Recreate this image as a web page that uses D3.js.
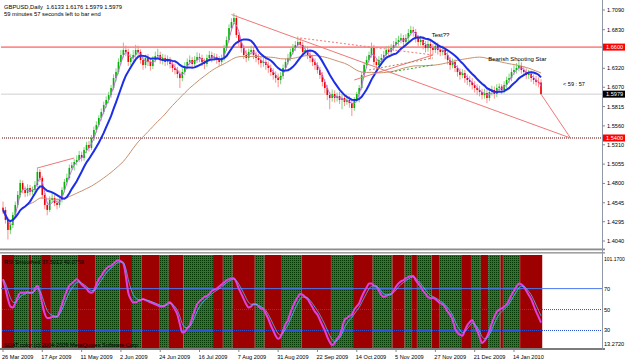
<!DOCTYPE html>
<html>
<head>
<meta charset="utf-8">
<script src="https://cdn.jsdelivr.net/npm/d3@7"></script>
<style>
  body { margin: 0; background: #fff; }
  svg { display: block; font-family: "Liberation Sans", Arial, sans-serif; }
</style>
</head>
<body>
<div class="canvas"></div>
<script>
// window size
const w = 625;
const h = 363;

// daily GBPUSD bars, 26 Mar 2009 .. 29 Jan 2010 (open = previous close)
const firstOpen = 1.4480;
const closes = [
  1.4450, 1.4318, 1.4186, 1.4252, 1.4384, 1.4516, 1.4648, 1.4806, 1.4714, 1.4674,
  1.4740, 1.4688, 1.4714, 1.4780, 1.4952, 1.4873, 1.4648, 1.4516, 1.4450, 1.4582,
  1.4608, 1.4542, 1.4516, 1.4582, 1.4714, 1.4820, 1.4873, 1.5004, 1.5040,
  1.5083, 1.5110, 1.5176, 1.5136, 1.5242, 1.5308, 1.5268, 1.5400, 1.5506, 1.5572,
  1.5664, 1.5743, 1.5836, 1.5902, 1.5968, 1.6060, 1.6192, 1.6272, 1.6404, 1.6496,
  1.6562, 1.6536, 1.6404, 1.6456, 1.6496, 1.6562, 1.6536, 1.6430, 1.6364, 1.6456,
  1.6404, 1.6351, 1.6430, 1.6483, 1.6496, 1.6430, 1.6456, 1.6404, 1.6430, 1.6377,
  1.6324, 1.6298, 1.6245, 1.6192, 1.6272, 1.6351, 1.6404, 1.6430, 1.6377, 1.6430,
  1.6470, 1.6456, 1.6404, 1.6377, 1.6456, 1.6496, 1.6456, 1.6470,
  1.6430, 1.6404, 1.6456, 1.6588, 1.6694, 1.6852, 1.6932, 1.6984, 1.6760, 1.6668,
  1.6588, 1.6496, 1.6456, 1.6536, 1.6562, 1.6496, 1.6456, 1.6430, 1.6390, 1.6404,
  1.6364, 1.6324, 1.6272, 1.6232, 1.6192, 1.6166, 1.6219, 1.6324, 1.6404, 1.6456,
  1.6536, 1.6588, 1.6628, 1.6668, 1.6628, 1.6536, 1.6562, 1.6496, 1.6456, 1.6404,
  1.6364, 1.6298, 1.6232, 1.6140, 1.6060, 1.5968, 1.5928, 1.5981, 1.5928, 1.5954,
  1.5902, 1.5928, 1.5876, 1.5902, 1.5862, 1.5796, 1.5902, 1.5980,
  1.6060, 1.6232, 1.6364, 1.6430, 1.6496, 1.6588, 1.6404, 1.6364, 1.6430, 1.6456,
  1.6496, 1.6562, 1.6536, 1.6588, 1.6628, 1.6668, 1.6694, 1.6720, 1.6668, 1.6720,
  1.6786, 1.6826, 1.6800, 1.6720, 1.6668, 1.6694, 1.6628, 1.6588, 1.6641, 1.6588,
  1.6562, 1.6615, 1.6562, 1.6536, 1.6562, 1.6496, 1.6430, 1.6364, 1.6404, 1.6324,
  1.6272, 1.6232, 1.6258, 1.6192, 1.6166, 1.6140, 1.6100, 1.6060, 1.6034, 1.6008,
  1.5968, 1.5994, 1.5928, 1.6008, 1.6034, 1.5981, 1.6060, 1.6080,
  1.6034, 1.6100, 1.6166, 1.6192, 1.6272, 1.6298, 1.6324, 1.6351, 1.6298, 1.6272,
  1.6232, 1.6245, 1.6192, 1.6166, 1.6140, 1.6133, 1.5979
];
const highs = [
  1.4560, 1.4490, 1.4350, 1.4300, 1.4420, 1.4560, 1.4700, 1.4850, 1.4840, 1.4760,
  1.4790, 1.4780, 1.4760, 1.4830, 1.5010, 1.4990, 1.4900, 1.4680, 1.4560, 1.4630,
  1.4680, 1.4650, 1.4600, 1.4620, 1.4750, 1.4860, 1.4930, 1.5050, 1.5080,
  1.5120, 1.5170, 1.5230, 1.5220, 1.5280, 1.5350, 1.5360, 1.5440, 1.5550, 1.5620,
  1.5700, 1.5790, 1.5880, 1.5950, 1.6010, 1.6100, 1.6240, 1.6320, 1.6450, 1.6560,
  1.6660, 1.6620, 1.6580, 1.6510, 1.6560, 1.6630, 1.6620, 1.6570, 1.6470, 1.6500,
  1.6510, 1.6440, 1.6480, 1.6540, 1.6580, 1.6540, 1.6510, 1.6500, 1.6490, 1.6470,
  1.6420, 1.6380, 1.6340, 1.6290, 1.6320, 1.6400, 1.6450, 1.6490, 1.6470, 1.6480,
  1.6530, 1.6520, 1.6500, 1.6450, 1.6500, 1.6550, 1.6540, 1.6520,
  1.6510, 1.6480, 1.6500, 1.6630, 1.6740, 1.6900, 1.6980, 1.7050, 1.7020, 1.6800,
  1.6710, 1.6630, 1.6560, 1.6580, 1.6620, 1.6600, 1.6540, 1.6510, 1.6480, 1.6460,
  1.6450, 1.6410, 1.6370, 1.6320, 1.6280, 1.6250, 1.6270, 1.6370, 1.6450, 1.6510,
  1.6580, 1.6640, 1.6680, 1.6740, 1.6720, 1.6670, 1.6620, 1.6610, 1.6540, 1.6500,
  1.6450, 1.6400, 1.6340, 1.6270, 1.6180, 1.6100, 1.6010, 1.6040, 1.6030, 1.6000,
  1.6010, 1.5980, 1.5970, 1.5950, 1.5950, 1.5900, 1.5940, 1.6010,
  1.6100, 1.6270, 1.6400, 1.6480, 1.6540, 1.6660, 1.6630, 1.6450, 1.6480, 1.6510,
  1.6550, 1.6610, 1.6620, 1.6640, 1.6680, 1.6720, 1.6750, 1.6780, 1.6760, 1.6770,
  1.6840, 1.6880, 1.6870, 1.6840, 1.6760, 1.6750, 1.6740, 1.6680, 1.6700, 1.6690,
  1.6640, 1.6670, 1.6660, 1.6610, 1.6620, 1.6600, 1.6540, 1.6470, 1.6450, 1.6440,
  1.6360, 1.6320, 1.6310, 1.6300, 1.6240, 1.6220, 1.6190, 1.6150, 1.6110, 1.6090,
  1.6050, 1.6050, 1.6040, 1.6060, 1.6090, 1.6080, 1.6110, 1.6120,
  1.6110, 1.6150, 1.6210, 1.6250, 1.6320, 1.6360, 1.6390, 1.6430, 1.6400, 1.6350,
  1.6320, 1.6300, 1.6290, 1.6240, 1.6220, 1.6200, 1.6176
];
const lows = [
  1.4400, 1.4270, 1.4060, 1.4130, 1.4210, 1.4350, 1.4480, 1.4610, 1.4670, 1.4620,
  1.4630, 1.4640, 1.4650, 1.4680, 1.4750, 1.4820, 1.4600, 1.4460, 1.4380, 1.4420,
  1.4540, 1.4500, 1.4460, 1.4480, 1.4550, 1.4680, 1.4780, 1.4850, 1.4980,
  1.4970, 1.5040, 1.5080, 1.5090, 1.5100, 1.5200, 1.5220, 1.5240, 1.5360, 1.5470,
  1.5540, 1.5630, 1.5710, 1.5800, 1.5860, 1.5930, 1.6030, 1.6150, 1.6240, 1.6370,
  1.6460, 1.6480, 1.6350, 1.6360, 1.6400, 1.6450, 1.6480, 1.6380, 1.6300, 1.6320,
  1.6350, 1.6290, 1.6310, 1.6400, 1.6440, 1.6380, 1.6370, 1.6350, 1.6360, 1.6320,
  1.6270, 1.6240, 1.6190, 1.6060, 1.6150, 1.6230, 1.6310, 1.6360, 1.6330, 1.6340,
  1.6390, 1.6400, 1.6350, 1.6310, 1.6340, 1.6420, 1.6400, 1.6420,
  1.6380, 1.6350, 1.6360, 1.6420, 1.6550, 1.6660, 1.6810, 1.6900, 1.6720, 1.6610,
  1.6530, 1.6440, 1.6400, 1.6420, 1.6500, 1.6440, 1.6400, 1.6370, 1.6330, 1.6340,
  1.6300, 1.6260, 1.6220, 1.6170, 1.6130, 1.6070, 1.6110, 1.6180, 1.6290, 1.6370,
  1.6420, 1.6500, 1.6550, 1.6590, 1.6580, 1.6480, 1.6490, 1.6440, 1.6400, 1.6350,
  1.6300, 1.6250, 1.6180, 1.6080, 1.5990, 1.5900, 1.5780, 1.5880, 1.5870, 1.5880,
  1.5850, 1.5780, 1.5820, 1.5840, 1.5800, 1.5690, 1.5760, 1.5870,
  1.5870, 1.6030, 1.6200, 1.6330, 1.6400, 1.6460, 1.6360, 1.6310, 1.6330, 1.6390,
  1.6410, 1.6460, 1.6490, 1.6500, 1.6550, 1.6590, 1.6620, 1.6650, 1.6610, 1.6630,
  1.6680, 1.6750, 1.6740, 1.6660, 1.6610, 1.6620, 1.6570, 1.6530, 1.6540, 1.6440,
  1.6500, 1.6520, 1.6500, 1.6480, 1.6490, 1.6440, 1.6370, 1.6300, 1.6320, 1.6270,
  1.6210, 1.6170, 1.6190, 1.6130, 1.6100, 1.6080, 1.6040, 1.6000, 1.5970, 1.5950,
  1.5910, 1.5920, 1.5860, 1.5890, 1.5960, 1.5920, 1.5940, 1.6020,
  1.5980, 1.5990, 1.6060, 1.6120, 1.6150, 1.6230, 1.6250, 1.6280, 1.6250, 1.6220,
  1.6180, 1.6180, 1.6140, 1.6110, 1.6090, 1.6070, 1.5979
];

// smoothed RSI, one value per bar
const rsiValues = [
  79, 70, 60, 53, 52, 56, 62, 66, 66, 66,
  67, 66, 66, 70, 73, 66, 55, 46, 42, 42,
  43, 43, 43, 48, 55, 62, 68, 73, 75,
  77, 79, 77, 74, 72, 70, 67, 66, 68, 74,
  79, 82, 86, 89, 91, 92, 94, 96, 97, 96,
  94, 82, 66, 60, 57, 57, 58, 59, 60, 59,
  58, 57, 56, 55, 54, 53, 53, 54, 56, 57,
  54, 50, 45, 36, 28, 29, 32, 35, 42, 49,
  55, 58, 60, 62, 63, 65, 68, 69,
  70, 72, 74, 76, 78, 79, 80, 80, 76, 70,
  65, 60, 55, 52, 53, 55, 55, 53, 51, 50,
  46, 41, 35, 30, 25, 22, 24, 30, 36, 40,
  47, 53, 58, 62, 65, 64, 62, 60, 56, 52,
  48, 45, 40, 35, 30, 24, 19, 16, 18, 22,
  25, 32, 40, 42, 44, 45, 50, 53,
  56, 62, 67, 71, 75, 75, 73, 72, 68, 64,
  62, 63, 64, 65, 68, 72, 75, 77, 78, 80,
  81, 82, 82, 78, 75, 72, 68, 65, 62, 61,
  61, 60, 58, 56, 55, 52, 48, 45, 40, 32,
  28, 26, 25, 30, 35, 38, 40, 35, 30, 24,
  18, 20, 24, 30, 37, 43, 48, 50,
  51, 53, 55, 59, 64, 68, 72, 75, 74, 72,
  68, 64, 60, 54, 48, 43, 37.5
];

// SDAT colour histogram: runs of [length in bars, state] (1 = green, 0 = red)
const sdatRuns = [
  [5, 0], [6, 1], [1, 0], [4, 1], [4, 0], [11, 1], [7, 0], [10, 1], [5, 0], [4, 1],
  [7, 0], [4, 1], [6, 0], [12, 1], [4, 0], [4, 1], [9, 0], [4, 1], [7, 0], [8, 1],
  [12, 0], [9, 1], [8, 0], [8, 1], [5, 0], [3, 1], [2, 0], [6, 1], [3, 0], [9, 1],
  [4, 0], [4, 1], [3, 0], [5, 1], [1, 0], [7, 1], [9, 0]
];

// axis labels
const priceTicks = [1.7090, 1.6830, 1.6320, 1.6070, 1.5815, 1.5560, 1.5310, 1.5055, 1.4800, 1.4545, 1.4295, 1.4040];
const dateTickBars = [0, 16, 32, 48, 64, 80, 96, 112, 128, 144, 160, 176, 192, 208];
const dateTickLabels = ["26 Mar 2009", "17 Apr 2009", "11 May 2009", "2 Jun 2009", "24 Jun 2009", "16 Jul 2009",
  "7 Aug 2009", "31 Aug 2009", "22 Sep 2009", "14 Oct 2009", "5 Nov 2009", "27 Nov 2009", "21 Dec 2009", "14 Jan 2010"];
const rsiLevels = [70, 50, 30];
const rsiRange = [13.272, 101.17];

// drawn objects: [bar, price] pairs
const trendFrom = [[14, 1.5004], [93, 1.7030], [219, 1.5979], [121, 1.6720], [143, 1.6166], [158, 1.6272], [149, 1.6298]];
const trendTo = [[29, 1.5136], [231, 1.5400], [231, 1.5400], [175, 1.6496], [175, 1.6496], [175, 1.6364], [175, 1.6456]];
const resistance = 1.6600;
const target = 1.5400;
const bid = 1.5979;

const svg = d3.select(".canvas").append("svg").attr("width", w).attr("height", h);
const defs = svg.append("defs");
defs.append("clipPath").attr("id", "clipMain")
  .append("rect").attr("x", 1).attr("y", 0).attr("width", 601).attr("height", 248);
defs.append("clipPath").attr("id", "clipSub")
  .append("rect").attr("x", 1).attr("y", 255).attr("width", 601).attr("height", 93);
const dots = defs.append("pattern").attr("id", "greenDots")
  .attr("width", 2).attr("height", 2).attr("patternUnits", "userSpaceOnUse");
dots.append("rect").attr("width", 2).attr("height", 2).attr("fill", "#009400");
dots.append("rect").attr("width", 1).attr("height", 1).attr("fill", "#003800");

// scales
const x = d3.scaleLinear().domain([0, closes.length - 1]).range([3, 541]);
const step = x(1) - x(0);
const y = d3.scaleLinear().domain([1.4040, 1.7090]).range([241, 10]);
const yr = d3.scaleLinear().domain(rsiRange).range([348, 256]);

const bars = closes.map((c, i) => ({
  i, close: c, open: i === 0 ? firstOpen : closes[i - 1], high: highs[i], low: lows[i]
}));

// simple moving average (uses what is available at the start)
const sma = (arr, n) => arr.map((v, i) => d3.mean(arr.slice(Math.max(0, i - n + 1), i + 1)));

// ---------- main window ----------
const main = svg.append("g").attr("clip-path", "url(#clipMain)");

main.append("line").attr("x1", 0).attr("x2", 603).attr("y1", y(resistance)).attr("y2", y(resistance))
  .attr("stroke", "#ff8c8c").attr("stroke-width", 1.6);
main.append("line").attr("x1", 0).attr("x2", 603).attr("y1", y(target)).attr("y2", y(target))
  .attr("stroke", "#600000").attr("stroke-width", 1).attr("stroke-dasharray", "1,1");
main.append("line").attr("x1", 0).attr("x2", 603).attr("y1", y(bid)).attr("y2", y(bid))
  .attr("stroke", "#cfcfcf").attr("stroke-width", 1);

// candles
main.selectAll("line.wick").data(bars).join("line").attr("class", "wick")
  .attr("x1", (d) => x(d.i)).attr("x2", (d) => x(d.i))
  .attr("y1", (d) => y(Math.max(d.high, d.open, d.close)))
  .attr("y2", (d) => y(Math.min(d.low, d.open, d.close)))
  .attr("stroke", (d) => (d.close >= d.open ? "#6fcf6f" : "#ff8080"))
  .attr("stroke-width", 0.9);
main.selectAll("rect.body").data(bars).join("rect").attr("class", "body")
  .attr("x", (d) => x(d.i) - 0.8).attr("width", 1.6)
  .attr("y", (d) => y(Math.max(d.open, d.close)))
  .attr("height", (d) => Math.max(0.8, Math.abs(y(d.open) - y(d.close))))
  .attr("fill", (d) => (d.close >= d.open ? "#00b400" : "#ee0000"));

// moving averages
const maLine = d3.line().x((d, i) => x(i)).y((d) => y(d));
main.append("path").attr("d", maLine(sma(closes, 50))).attr("fill", "none")
  .attr("stroke", "#c8906c").attr("stroke-width", 1);
main.append("path").attr("d", maLine(sma(closes, 3))).attr("fill", "none")
  .attr("stroke", "#c070e0").attr("stroke-width", 1);
main.append("path").attr("d", maLine(sma(closes, 10))).attr("fill", "none")
  .attr("stroke", "#1c2ee8").attr("stroke-width", 2);

// trend lines
const trendStyles = [
  { color: "#f07878", dash: null },
  { color: "#f07878", dash: null },
  { color: "#f07878", dash: null },
  { color: "#f07878", dash: "2,2" },
  { color: "#f07878", dash: null },
  { color: "#30b030", dash: "2,2" },
  { color: "#b08050", dash: "2,2" },
];
trendFrom.forEach((p, k) => {
  const q = trendTo[k];
  main.append("line")
    .attr("x1", x(p[0])).attr("y1", y(p[1])).attr("x2", x(q[0])).attr("y2", y(q[1]))
    .attr("stroke", trendStyles[k].color).attr("stroke-width", 1)
    .attr("stroke-dasharray", trendStyles[k].dash);
});

// annotations
main.append("text").attr("x", x(174.5)).attr("y", y(1.6734)).attr("font-size", 6).text("Test??");
main.append("text").attr("x", x(197.5)).attr("y", y(1.6417)).attr("font-size", 6).text("Bearish Shooting Star");
svg.append("text").attr("x", 563).attr("y", 86).attr("font-size", 5.6).text("<  59 : 57");

// header
svg.append("text").attr("x", 4).attr("y", 8.5).attr("font-size", 5.8).attr("xml:space", "preserve")
  .text("GBPUSD,Daily  1.6133 1.6176 1.5979 1.5979");
svg.append("text").attr("x", 4).attr("y", 15.5).attr("font-size", 5.8)
  .text("59 minutes 57 seconds left to bar end");

// ---------- RSI window ----------
const sub = svg.append("g").attr("clip-path", "url(#clipSub)");
let runStart = 0;
const runs = sdatRuns.map(([len, state]) => {
  const r = { start: runStart, end: runStart + len - 1, state };
  runStart += len;
  return r;
});
sub.selectAll("rect.hist").data(runs).join("rect").attr("class", "hist")
  .attr("x", (d) => x(d.start) - step / 2).attr("width", (d) => x(d.end) - x(d.start) + step)
  .attr("y", 255).attr("height", 93)
  .attr("fill", (d) => (d.state ? "url(#greenDots)" : "#9c0000"));

sub.selectAll("line.level").data(rsiLevels).join("line").attr("class", "level")
  .attr("x1", 0).attr("x2", 603).attr("y1", (d) => yr(d)).attr("y2", (d) => yr(d))
  .attr("stroke", (d) => (d === 70 ? "#4a78f0" : "#2a50d8"))
  .attr("stroke-width", 1)
  .attr("stroke-dasharray", (d) => (d === 70 ? null : "1,1"));

// signal: short EMA of the smoothed RSI
const signal = [];
rsiValues.forEach((v, i) => signal.push(i === 0 ? v : signal[i - 1] + 0.45 * (v - signal[i - 1])));
const rsiLine = d3.line().x((d, i) => x(i)).y((d) => yr(d)).curve(d3.curveMonotoneX);
sub.append("path").attr("d", rsiLine(rsiValues)).attr("fill", "none")
  .attr("stroke", "#e040e0").attr("stroke-width", 2);
sub.append("path").attr("d", rsiLine(signal)).attr("fill", "none")
  .attr("stroke", "#50b8ff").attr("stroke-width", 0.8);

sub.append("text").attr("x", 4).attr("y", 264).attr("font-size", 5.6).attr("fill", "#000")
  .text("RSI Smoothed 37.5013 40.0759");
sub.append("text").attr("x", 4).attr("y", 347).attr("font-size", 5.6).attr("fill", "#000")
  .text("SDAT color (c) 2004-2009 MetaQuotes Software Corp.");

// ---------- frames ----------
svg.append("rect").attr("x", 0).attr("y", 248.5).attr("width", 605).attr("height", 1.8).attr("fill", "#8c8c8c");
svg.append("rect").attr("x", 0).attr("y", 252).attr("width", 605).attr("height", 1.6).attr("fill", "#a0a0a0");
svg.append("rect").attr("x", 0).attr("y", 348).attr("width", 605).attr("height", 2).attr("fill", "#7c7c7c");
svg.append("line").attr("x1", 602.5).attr("x2", 602.5).attr("y1", 0).attr("y2", 350)
  .attr("stroke", "#9098a8").attr("stroke-width", 1);

// price axis
const axisG = svg.append("g").attr("font-size", 5.6);
axisG.selectAll("line.ptick").data(priceTicks).join("line").attr("class", "ptick")
  .attr("x1", 602).attr("x2", 605).attr("y1", (d) => y(d)).attr("y2", (d) => y(d)).attr("stroke", "#888");
axisG.selectAll("text.plab").data(priceTicks).join("text").attr("class", "plab")
  .attr("x", 607).attr("y", (d) => y(d) + 2).text((d) => d.toFixed(4));

// price boxes
const boxes = [[resistance, "#ff0000"], [target, "#ff0000"], [bid, "#000000"]];
boxes.forEach(([v, c]) => {
  axisG.append("rect").attr("x", 603).attr("y", y(v) - 3.5).attr("width", 22).attr("height", 7).attr("fill", c);
  axisG.append("text").attr("x", 606).attr("y", y(v) + 2).attr("fill", "#fff").text(v.toFixed(4));
});

// RSI axis
const rsiAxisLabels = [[rsiRange[1], "101.1700"], [70, "70"], [50, "50"], [30, "30"], [rsiRange[0], "13.2720"]];
rsiAxisLabels.forEach(([v, t]) => {
  axisG.append("text").attr("x", 604).attr("y", yr(v) + (v === rsiRange[1] ? 4.5 : v === rsiRange[0] ? -2 : 2))
    .attr("font-size", v === rsiRange[1] ? 5 : 5.6).text(t);
});

// date axis
axisG.selectAll("text.dlab").data(dateTickBars).join("text").attr("class", "dlab")
  .attr("x", (d) => x(d) - 1).attr("y", 359).text((d, i) => dateTickLabels[i]);
axisG.selectAll("line.dtick").data(dateTickBars).join("line").attr("class", "dtick")
  .attr("x1", (d) => x(d)).attr("x2", (d) => x(d)).attr("y1", 350).attr("y2", 352).attr("stroke", "#888");
</script>
</body>
</html>
